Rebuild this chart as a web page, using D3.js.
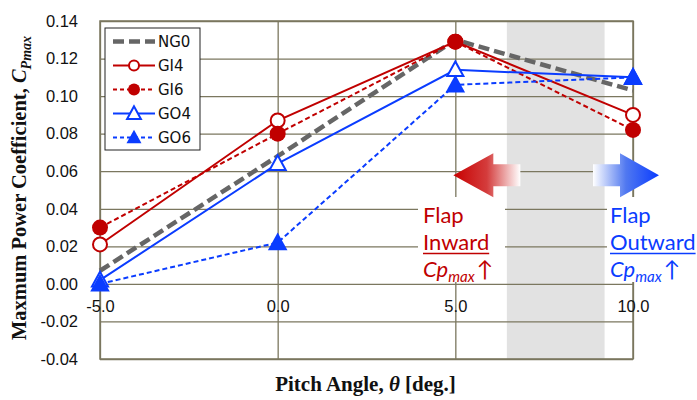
<!DOCTYPE html>
<html>
<head>
<meta charset="utf-8">
<script src="https://cdn.jsdelivr.net/npm/d3@7"></script>
<style>
  body { margin: 0; background: #fff; }
  svg { display: block; }
</style>
</head>
<body>
<svg id="chart"></svg>
<script>
// pitch angles (x)
const pitchAngles = [-5, 0, 5, 10];
// max power coefficient for each case
const ng0 = [0.007, 0.068, 0.130, 0.103];
const gi4 = [0.021, 0.087, 0.129, 0.090];
const gi6 = [0.030, 0.080, 0.129, 0.082];
const go4 = [0.002, 0.064, 0.114, 0.110];
const go6 = [0.000, 0.022, 0.106, 0.110];
const seriesNames = ['NG0', 'GI4', 'GI6', 'GO4', 'GO6'];
const xTicks = [-5, 0, 5, 10];
const yTicks = [-0.04, -0.02, 0, 0.02, 0.04, 0.06, 0.08, 0.10, 0.12, 0.14];
// shaded pitch range
const band = [6.45, 9.2];

const RED = '#c00000', BLUE = '#0a3cff', GRAY = '#666666', GRID = '#7b775f';

const config = {
  containerWidth: 697,
  containerHeight: 400,
  margin: { top: 21, bottom: 41, right: 64, left: 100 }
};
const width = config.containerWidth - config.margin.left - config.margin.right;
const height = config.containerHeight - config.margin.top - config.margin.bottom;

const series = [
  { name: 'NG0', values: ng0, color: GRAY, width: 4.5, dash: '11,5', marker: null },
  { name: 'GI4', values: gi4, color: RED, width: 2, dash: null, marker: 'circle-open' },
  { name: 'GI6', values: gi6, color: RED, width: 2, dash: '5,3', marker: 'circle' },
  { name: 'GO4', values: go4, color: BLUE, width: 2, dash: null, marker: 'tri-open' },
  { name: 'GO6', values: go6, color: BLUE, width: 2, dash: '5,3', marker: 'tri' }
];

const xScale = d3.scaleLinear().domain([-5, 10]).range([0, width]);
const yScale = d3.scaleLinear().domain([-0.04, 0.14]).range([height, 0]);

// plain hyphen instead of d3's unicode minus
const fmt2 = d => d3.format('.2f')(d).replace('−', '-');
const fmt1 = d => d3.format('.1f')(d).replace('−', '-');

const svg = d3.select('#chart')
  .attr('width', config.containerWidth)
  .attr('height', config.containerHeight);

const defs = svg.append('defs');
const gRed = defs.append('linearGradient').attr('id', 'gradRed')
  .attr('x1', '0%').attr('x2', '100%');
gRed.append('stop').attr('offset', '0%').attr('stop-color', '#c80000');
gRed.append('stop').attr('offset', '50%').attr('stop-color', '#d43c3c');
gRed.append('stop').attr('offset', '100%').attr('stop-color', '#ffffff');
const gBlue = defs.append('linearGradient').attr('id', 'gradBlue')
  .attr('x1', '0%').attr('x2', '100%');
gBlue.append('stop').attr('offset', '0%').attr('stop-color', '#ffffff');
gBlue.append('stop').attr('offset', '50%').attr('stop-color', '#5078f0');
gBlue.append('stop').attr('offset', '100%').attr('stop-color', '#0a3cff');

const chart = svg.append('g')
  .attr('transform', `translate(${config.margin.left},${config.margin.top})`);

// gray band
chart.append('rect')
  .attr('x', xScale(band[0]))
  .attr('width', xScale(band[1]) - xScale(band[0]))
  .attr('y', 0)
  .attr('height', height)
  .attr('fill', '#e2e2e2');

// horizontal grid + y labels
const yAxis = d3.axisLeft(yScale).tickValues(yTicks).tickSize(-width).tickPadding(22)
  .tickFormat(fmt2);
const yAxisG = chart.append('g').attr('class', 'axis y-axis').call(yAxis);
yAxisG.select('.domain').remove();
yAxisG.selectAll('line').attr('stroke', GRID).attr('stroke-width', 1.3);
yAxisG.selectAll('text')
  .attr('fill', '#111')
  .style('font-family', '"Liberation Sans", Arial, sans-serif')
  .style('font-size', '16.5px');

// vertical grid
const xGrid = d3.axisBottom(xScale).tickValues(xTicks).tickSize(-height).tickFormat('');
const xGridG = chart.append('g').attr('transform', `translate(0,${height})`).call(xGrid);
xGridG.select('.domain').remove();
xGridG.selectAll('line').attr('stroke', GRID).attr('stroke-width', 1.3);

// frame
chart.append('rect')
  .attr('width', width).attr('height', height)
  .attr('fill', 'none').attr('stroke', GRID).attr('stroke-width', 1.5);

// x labels sit under the zero line
const xAxis = d3.axisBottom(xScale).tickValues(xTicks).tickSize(0).tickPadding(16)
  .tickFormat(fmt1);
const xAxisG = chart.append('g').attr('transform', `translate(0,${yScale(0)})`).call(xAxis);
xAxisG.select('.domain').remove();
xAxisG.selectAll('text')
  .attr('fill', '#111')
  .style('font-family', '"Liberation Sans", Arial, sans-serif')
  .style('font-size', '16.5px');

// white boxes behind the annotation text
chart.append('rect').attr('x', 318).attr('y', 176).attr('width', 87).attr('height', 85).attr('fill', '#fff');
chart.append('rect').attr('x', 507).attr('y', 176).attr('width', 90).attr('height', 85).attr('fill', '#fff');

// arrows
const ay = yScale(0.06) + 4;
chart.append('path')
  .attr('d', `M${xScale(5) - 2},${ay} L${xScale(5) + 38},${ay - 22} L${xScale(5) + 38},${ay - 11}
     L${xScale(5) + 65},${ay - 11} L${xScale(5) + 65},${ay + 11} L${xScale(5) + 38},${ay + 11}
     L${xScale(5) + 38},${ay + 22} Z`)
  .attr('fill', 'url(#gradRed)');
chart.append('path')
  .attr('d', `M${xScale(10) + 26},${ay} L${xScale(10) - 13},${ay - 22} L${xScale(10) - 13},${ay - 11}
     L${xScale(10) - 40},${ay - 11} L${xScale(10) - 40},${ay + 11} L${xScale(10) - 13},${ay + 11}
     L${xScale(10) - 13},${ay + 22} Z`)
  .attr('fill', 'url(#gradBlue)');

// lines
const line = d3.line()
  .x((d, i) => xScale(pitchAngles[i]))
  .y(d => yScale(d));

series.forEach(s => {
  chart.append('path')
    .datum(s.values)
    .attr('fill', 'none')
    .attr('stroke', s.color)
    .attr('stroke-width', s.width)
    .attr('stroke-dasharray', s.dash)
    .attr('d', line);
});

function drawMarker(g, type, color, cx, cy, size) {
  if (type === 'circle') {
    g.append('circle').attr('cx', cx).attr('cy', cy).attr('r', size)
      .attr('fill', color);
  } else if (type === 'circle-open') {
    g.append('circle').attr('cx', cx).attr('cy', cy).attr('r', size - 1)
      .attr('fill', '#fff').attr('stroke', color).attr('stroke-width', 2);
  } else if (type === 'tri' || type === 'tri-open') {
    const h = size * 2;
    const w = size * 2.3;
    const pts = `${cx},${cy - h * 0.6} ${cx - w / 2},${cy + h * 0.45} ${cx + w / 2},${cy + h * 0.45}`;
    const p = g.append('polygon').attr('points', pts);
    if (type === 'tri') p.attr('fill', color);
    else p.attr('fill', '#fff').attr('stroke', color).attr('stroke-width', 2);
  }
}

series.forEach(s => {
  if (!s.marker) return;
  const sz = s.marker === 'tri' ? 8.5 : (s.marker === 'tri-open' ? 7 : 8);
  s.values.forEach((v, i) => {
    drawMarker(chart, s.marker, s.color, xScale(pitchAngles[i]), yScale(v), sz);
  });
});

// annotation text
function annot(x, color, word) {
  const t = chart.append('g').style('font-family', 'Lato, "Open Sans", sans-serif').attr('fill', color);
  t.append('text').attr('x', x).attr('y', 202).style('font-size', '22px').text('Flap');
  const w = t.append('text').attr('x', x).attr('y', 229).style('font-size', '22px').text(word);
  const bb = w.node().getBBox();
  t.append('line').attr('x1', x).attr('x2', x + bb.width)
    .attr('y1', 232.5).attr('y2', 232.5).attr('stroke', color).attr('stroke-width', 1.5);
  const c = t.append('text').attr('x', x).attr('y', 256).style('font-size', '22px');
  c.append('tspan').style('font-style', 'italic').text('Cp');
  c.append('tspan').style('font-style', 'italic').style('font-size', '15px').attr('dy', 5).text('max');
  c.append('tspan').attr('dy', -5).attr('dx', 2).text('↑');
}
annot(323, RED, 'Inward');
annot(510, BLUE, 'Outward');

// legend
const legend = chart.append('g').attr('transform', 'translate(5,7)');
legend.append('rect').attr('width', 95).attr('height', 122)
  .attr('fill', '#fff').attr('stroke', '#222').attr('stroke-width', 1);
series.forEach((s, i) => {
  const ly = 13.5 + i * 24;
  legend.append('line').attr('x1', 8).attr('x2', 50).attr('y1', ly).attr('y2', ly)
    .attr('stroke', s.color).attr('stroke-width', s.width)
    .attr('stroke-dasharray', s.dash ? (s.name === 'NG0' ? '11,5' : '4,3') : null);
  if (s.marker) drawMarker(legend, s.marker, s.color, 29, ly, s.marker === 'tri' ? 6.5 : 6);
  legend.append('text').attr('x', 53).attr('y', ly).attr('dy', '0.36em')
    .style('font-family', '"DejaVu Sans", Verdana, sans-serif').style('font-size', '15px')
    .attr('fill', '#111').text(seriesNames[i]);
});

// axis titles
const yt = svg.append('text')
  .attr('transform', `translate(26,${config.margin.top + height / 2 - 2}) rotate(-90)`)
  .attr('text-anchor', 'middle')
  .style('font-family', '"Liberation Serif", "Times New Roman", serif')
  .style('font-weight', 'bold').style('font-size', '20.5px').attr('fill', '#111');
yt.append('tspan').text('Maxmum Power Coefficient, ');
yt.append('tspan').style('font-style', 'italic').text('C');
yt.append('tspan').style('font-style', 'italic').style('font-size', '14px').attr('dy', 5).text('Pmax');

const xt = svg.append('text')
  .attr('x', config.margin.left + width / 2 - 1)
  .attr('y', 391)
  .attr('text-anchor', 'middle')
  .style('font-family', '"Liberation Serif", "Times New Roman", serif')
  .style('font-weight', 'bold').style('font-size', '21px').attr('fill', '#111');
xt.append('tspan').text('Pitch Angle, ');
xt.append('tspan').style('font-style', 'italic').text('θ');
xt.append('tspan').text(' [deg.]');
</script>
</body>
</html>
